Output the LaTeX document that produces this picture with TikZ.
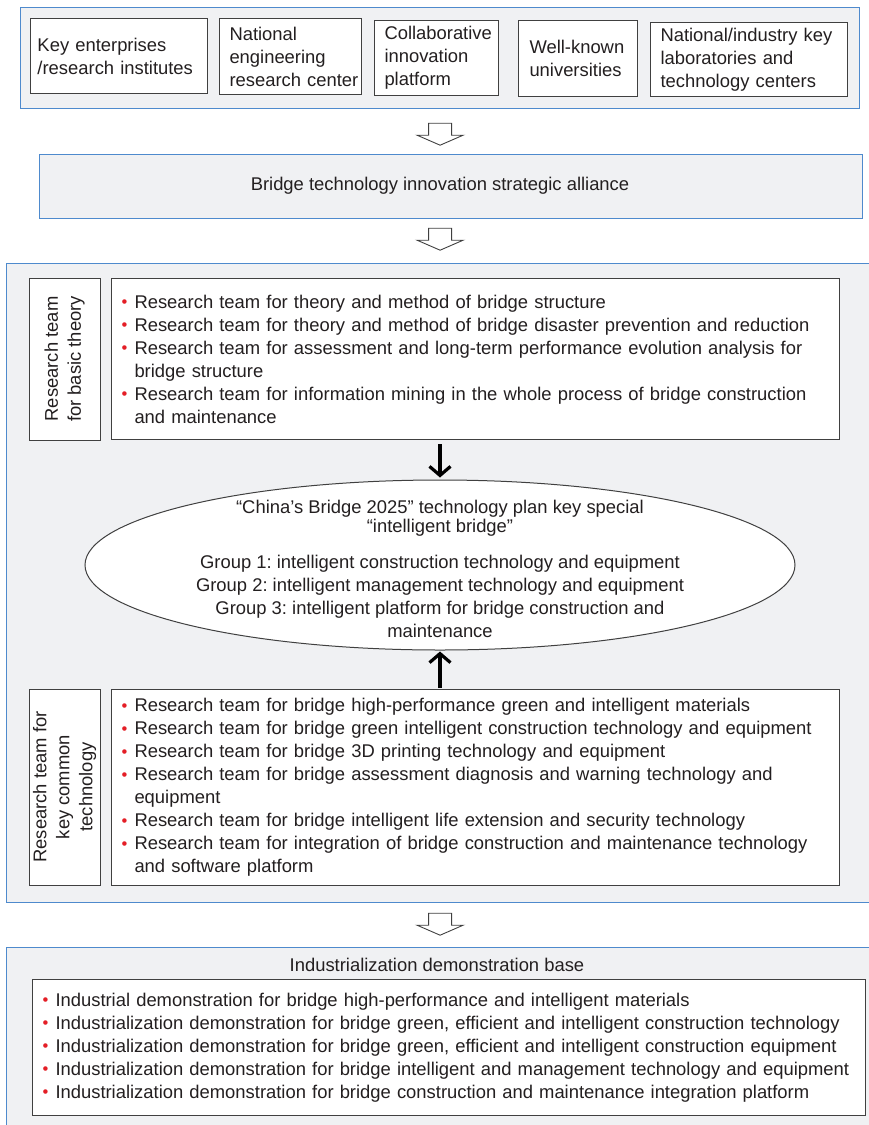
\documentclass[tikz,border=0pt]{standalone}
\usepackage{fontspec}
\setmainfont{Liberation Sans}
\usetikzlibrary{shapes.geometric,arrows.meta,calc}
\definecolor{cblue}{RGB}{78,138,205}
\definecolor{cfill}{RGB}{240,241,243}
\definecolor{cgray}{RGB}{64,64,64}
\definecolor{cred}{RGB}{228,30,38}
\definecolor{ctext}{RGB}{35,31,32}
\newcommand{\bul}{\makebox[13pt][l]{\textcolor{cred}{\raisebox{0.05ex}{\scalebox{0.9}{•}}}}}
\newcommand{\bi}[1]{\bul\mbox{#1}}
\newcommand{\ci}[1]{\hspace*{13pt}\mbox{#1}}
\frenchspacing
\begin{document}
\frenchspacing
\begin{tikzpicture}[x=1pt,y=-1pt,
  font=\fontsize{18.4}{23}\selectfont\frenchspacing, text=ctext,
  container/.style={draw=cblue, fill=cfill, line width=1.2pt, anchor=north west, inner sep=0pt},
  innerbox/.style={draw=cgray, fill=white, line width=1pt},
  topbox/.style={innerbox, anchor=north west, align=left, inner ysep=0pt, inner xsep=10pt},
  bulletbox/.style={innerbox, anchor=north west, align=left, inner xsep=10pt, inner ysep=0pt},
  sidebox/.style={innerbox, rotate=90, align=center, inner sep=0pt, minimum height=71pt},
  solidarrow/.style={draw=black, line width=3.2pt, -{Straight Barb[length=9pt,width=21pt]}},
  hollow arrow/.pic={\draw[cgray, fill=white, line width=0.9pt, line join=miter]
     (-11.5,0) -- (11.5,0) -- (11.5,12) -- (23,12) -- (0,22) -- (-23,12) -- (-11.5,12) -- cycle;}
]
\useasboundingbox (0,0) rectangle (869,1125);
\clip (0,0) rectangle (869,1125);

% containers
\node[container, minimum width=839pt, minimum height=101pt] (topc) at (20,7) {};
\node[container, minimum width=823pt, minimum height=64pt] (alliance) at (39,154) {};
\node[container, minimum width=880pt, minimum height=639pt] (mid) at (6,263) {};
\node[container, minimum width=880pt, minimum height=200pt] (botc) at (6,947) {};

% top row
\node[topbox, inner xsep=7pt, text width=163pt, minimum height=75pt] (b1) at (30,18) {\mbox{Key enterprises}\\\mbox{/research institutes}};
\node[topbox, text width=122pt, minimum height=76pt] (b2) at (219,18) {\mbox{National}\\\mbox{engineering}\\\mbox{research center}};
\node[topbox, text width=104pt, minimum height=75pt] (b3) at (374,20) {\mbox{Collaborative}\\\mbox{innovation}\\\mbox{platform}};
\node[topbox, inner xsep=11pt, text width=97pt, minimum height=76pt] (b4) at (518,20) {\mbox{Well-known}\\\mbox{universities}};
\node[topbox, text width=177pt, minimum height=74pt] (b5) at (650,22) {\mbox{National/industry key}\\\mbox{laboratories and}\\\mbox{technology centers}};

% alliance text
\node (alltext) at (440,186) {Bridge technology innovation strategic alliance};

% hollow arrows
\pic at ($(topc.south)+(0,14)$) {hollow arrow};
\pic at ($(alliance.south -| topc.south)+(0,9)$) {hollow arrow};
\pic at ($(mid.south -| topc.south)+(0,10)$) {hollow arrow};

% basic theory
\node[sidebox, minimum width=162pt] (lb1) at (64.5,359) {Research team\\for basic theory};
\node[bulletbox, minimum height=161pt, text width=708pt] (bt1) at (111,278) {%
\bi{Research team for theory and method of bridge structure}\\
\bi{Research team for theory and method of bridge disaster prevention and reduction}\\
\bi{Research team for assessment and long-term performance evolution analysis for}\\
\ci{bridge structure}\\
\bi{Research team for information mining in the whole process of bridge construction}\\
\ci{and maintenance}};

% ellipse
\node[ellipse, draw=cgray, fill=white, line width=1pt, minimum width=710pt, minimum height=170pt, inner sep=0pt] (ell) at (440,565) {};
\node[align=center, inner sep=0pt] (elltext) at ($(ell.center)+(0,4)$) {%
“China’s Bridge 2025” technology plan key special\\[-4pt]
“intelligent bridge”\\[13pt]
Group 1: intelligent construction technology and equipment\\
Group 2: intelligent management technology and equipment\\
Group 3: intelligent platform for bridge construction and\\
maintenance};

% key common technology
\node[sidebox, minimum width=196pt] (lb2) at (64.5,787) {Research team for\\key common\\technology};
\node[bulletbox, minimum height=196pt, text width=708pt] (bt2) at (111,689) {%
\bi{Research team for bridge high-performance green and intelligent materials}\\
\bi{Research team for bridge green intelligent construction technology and equipment}\\
\bi{Research team for bridge 3D printing technology and equipment}\\
\bi{Research team for bridge assessment diagnosis and warning technology and}\\
\ci{equipment}\\
\bi{Research team for bridge intelligent life extension and security technology}\\
\bi{Research team for integration of bridge construction and maintenance technology}\\
\ci{and software platform}};

% solid arrows
\draw[solidarrow] (ell.north |- bt1.south) ++(0,4) -- ($(ell.north)+(0,-2)$);
\draw[solidarrow] (ell.south |- bt2.north) ++(0,-1) -- ($(ell.south)+(0,1)$);

% bottom
\node (bottitle) at (437,965) {Industrialization demonstration base};
\node[bulletbox, minimum height=136pt, text width=813pt] (bt3) at (32,979) {%
\bi{Industrial demonstration for bridge high-performance and intelligent materials}\\
\bi{Industrialization demonstration for bridge green, efficient and intelligent construction technology}\\
\bi{Industrialization demonstration for bridge green, efficient and intelligent construction equipment}\\
\bi{Industrialization demonstration for bridge intelligent and management technology and equipment}\\
\bi{Industrialization demonstration for bridge construction and maintenance integration platform}};
\end{tikzpicture}
\end{document}
